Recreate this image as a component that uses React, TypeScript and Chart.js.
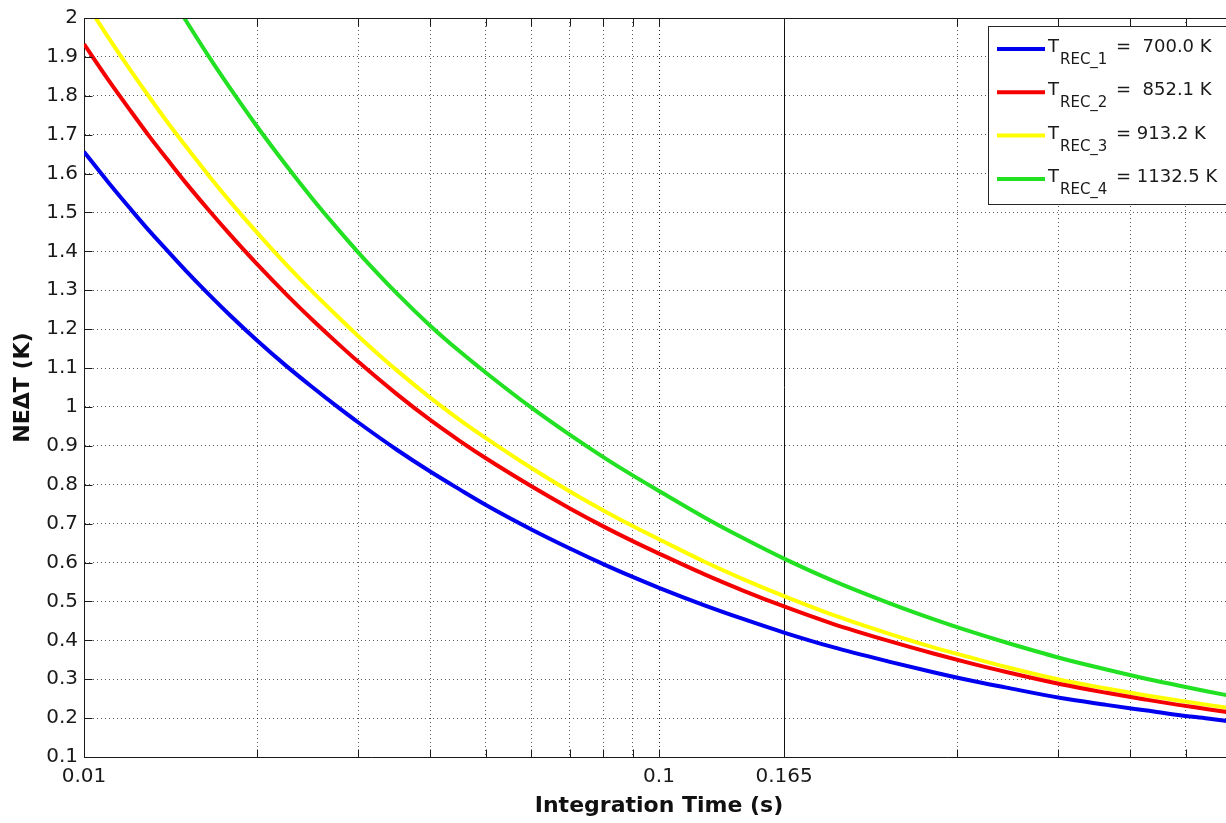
import React, { useEffect, useRef } from "react";
import { Chart, registerables } from "chart.js";

Chart.register(...registerables);

// Integration time samples (s)
const INTEGRATION_TIME = [
  0.01, 0.011, 0.012, 0.013, 0.014, 0.015, 0.0165, 0.018, 0.02, 0.0225, 0.025, 0.0275,
  0.03, 0.035, 0.04, 0.045, 0.05, 0.06, 0.07, 0.08, 0.09, 0.1, 0.12, 0.14, 0.165, 0.2,
  0.25, 0.3, 0.35, 0.4, 0.5, 0.6, 0.7, 0.8, 0.9, 1.0,
];

// NEΔT (K) for each receiver temperature
const NEDT_REC_1 = [
  1.656, 1.579, 1.512, 1.452, 1.4, 1.352, 1.289, 1.234, 1.171, 1.105, 1.05, 1.002,
  0.96, 0.89, 0.834, 0.788, 0.748, 0.685, 0.636, 0.596, 0.563, 0.535, 0.49, 0.455,
  0.42, 0.383, 0.346, 0.318, 0.296, 0.279, 0.2515, 0.234, 0.22, 0.208, 0.199, 0.1905,
];
const NEDT_REC_2 = [
  1.933, 1.843, 1.765, 1.695, 1.634, 1.578, 1.505, 1.441, 1.367, 1.289, 1.223, 1.166,
  1.116, 1.033, 0.9665, 0.913, 0.868, 0.796, 0.739, 0.693, 0.655, 0.623, 0.5695, 0.528,
  0.487, 0.443, 0.399, 0.366, 0.34, 0.319, 0.287, 0.265, 0.248, 0.234, 0.223, 0.213,
];
const NEDT_REC_3 = [
  2.047, 1.952, 1.869, 1.796, 1.73, 1.672, 1.594, 1.526, 1.448, 1.365, 1.295, 1.235,
  1.182, 1.094, 1.024, 0.967, 0.92, 0.843, 0.7825, 0.734, 0.694, 0.66, 0.602, 0.5575,
  0.5135, 0.466, 0.418, 0.382, 0.355, 0.332, 0.298, 0.276, 0.259, 0.2455, 0.234, 0.224,
];
const NEDT_REC_4 = [
  2.459, 2.342, 2.239, 2.149, 2.068, 1.996, 1.9, 1.817, 1.721, 1.62, 1.534, 1.461,
  1.397, 1.292, 1.209, 1.143, 1.088, 0.998, 0.928, 0.871, 0.824, 0.784, 0.716, 0.663,
  0.61, 0.554, 0.497, 0.4545, 0.4215, 0.395, 0.354, 0.325, 0.302, 0.284, 0.2685, 0.2555,
];

const SERIES = [NEDT_REC_1, NEDT_REC_2, NEDT_REC_3, NEDT_REC_4];
const SERIES_COLORS = ["#0000f0", "#f40000", "#ffff00", "#22e022"];
const LEGEND_SUBSCRIPTS = ["REC_1", "REC_2", "REC_3", "REC_4"];
const LEGEND_VALUES = ["=  700.0 K", "=  852.1 K", "= 913.2 K", "= 1132.5 K"];

// Axis ticks and grid
const X_GRID = [
  0.01, 0.02, 0.03, 0.04, 0.05, 0.06, 0.07, 0.08, 0.09, 0.1, 0.165, 0.33, 0.495, 0.66, 0.825,
];
const X_LABELS = [0.01, 0.1, 0.165];
const MARKER_TIME = 0.165;
const Y_TICKS = [
  0.1, 0.2, 0.3, 0.4, 0.5, 0.6, 0.7, 0.8, 0.9, 1.0, 1.1, 1.2, 1.3, 1.4, 1.5, 1.6, 1.7, 1.8,
  1.9, 2.0,
];

const FONT = '"DejaVu Sans", sans-serif';
const INK = "#1a1a1a";

const align = (v: number) => Math.round(v) + 0.5;

// Solid marker line, box frame with inward ticks, and the subscripted legend
const framePlugin = {
  id: "frame",
  beforeDatasetsDraw(chart: any) {
    const { ctx, chartArea: a, scales } = chart;
    const mx = align(scales.x.getPixelForValue(MARKER_TIME));
    ctx.save();
    ctx.strokeStyle = "#111";
    ctx.lineWidth = 1;
    ctx.beginPath();
    ctx.moveTo(mx, a.top);
    ctx.lineTo(mx, a.bottom);
    ctx.stroke();
    ctx.restore();
  },
  afterDatasetsDraw(chart: any) {
    const { ctx, chartArea: a, scales } = chart;
    const { x, y } = scales;
    const L = align(a.left);
    const R = align(a.right);
    const T = align(a.top);
    const B = align(a.bottom);
    const tick = 8;

    ctx.save();
    ctx.strokeStyle = INK;
    ctx.lineWidth = 1;
    ctx.beginPath();
    ctx.moveTo(L, T);
    ctx.lineTo(R, T);
    ctx.lineTo(R, B);
    for (const v of X_GRID) {
      if (v === X_GRID[0]) continue;
      const px = align(x.getPixelForValue(v));
      ctx.moveTo(px, B);
      ctx.lineTo(px, B - tick);
      ctx.moveTo(px, T);
      ctx.lineTo(px, T + tick);
    }
    for (const v of Y_TICKS) {
      const py = align(y.getPixelForValue(v));
      ctx.moveTo(L, py);
      ctx.lineTo(L + tick, py);
      ctx.moveTo(R, py);
      ctx.lineTo(R - tick, py);
    }
    ctx.stroke();

    // Legend
    const boxW = 238;
    const boxH = 178;
    const lx = Math.round(a.right) - 8 - boxW;
    const ly = Math.round(a.top) + 8;
    ctx.fillStyle = "#ffffff";
    ctx.fillRect(lx, ly, boxW, boxH);
    ctx.strokeStyle = "#262626";
    ctx.strokeRect(lx + 0.5, ly + 0.5, boxW, boxH);

    chart.data.datasets.forEach((ds: any, i: number) => {
      const rowY = ly + 23 + i * 43.3;
      ctx.strokeStyle = ds.borderColor;
      ctx.lineWidth = 4;
      ctx.beginPath();
      ctx.moveTo(lx + 9, rowY);
      ctx.lineTo(lx + 57, rowY);
      ctx.stroke();

      ctx.fillStyle = INK;
      ctx.textBaseline = "alphabetic";
      ctx.textAlign = "left";
      ctx.font = `18px ${FONT}`;
      ctx.fillText("T", lx + 60, rowY + 3);
      ctx.font = `15px ${FONT}`;
      ctx.fillText(LEGEND_SUBSCRIPTS[i], lx + 72, rowY + 15);
      ctx.font = `18px ${FONT}`;
      ctx.fillText(LEGEND_VALUES[i], lx + 128, rowY + 3);
    });
    ctx.restore();
  },
};

export default function App() {
  const canvasRef = useRef<HTMLCanvasElement>(null);

  useEffect(() => {
    const canvas = canvasRef.current;
    if (!canvas) return;
    Chart.defaults.font.family = FONT;

    const datasets = SERIES.map((values, i) => ({
      label: `T${LEGEND_SUBSCRIPTS[i]} ${LEGEND_VALUES[i]}`,
      data: INTEGRATION_TIME.map((t, k) => ({ x: t, y: values[k] })),
      borderColor: SERIES_COLORS[i],
      backgroundColor: SERIES_COLORS[i],
      borderWidth: 4,
      pointRadius: 0,
      cubicInterpolationMode: "monotone" as const,
      clip: 0,
      fill: false,
    }));

    const gridColor = (ctx: any) => {
      const v = ctx.tick ? ctx.tick.value : null;
      if (v === MARKER_TIME) return "rgba(0,0,0,0)";
      if (v === 0.1) return "rgba(0,0,0,0.85)";
      return "rgba(0,0,0,0.65)";
    };

    const chart = new Chart(canvas, {
      type: "line",
      data: { datasets },
      plugins: [framePlugin],
      options: {
        animation: false,
        responsive: false,
        devicePixelRatio: 1,
        layout: { padding: { top: 16, right: 6, left: 0, bottom: 0 } },
        plugins: {
          legend: { display: false },
          tooltip: { enabled: false },
        },
        scales: {
          x: {
            type: "logarithmic",
            min: 0.01,
            max: 1,
            afterBuildTicks: (s: any) => {
              s.ticks = X_GRID.map((v) => ({ value: v }));
            },
            afterFit: (s: any) => {
              s.height = 66;
            },
            ticks: {
              autoSkip: false,
              maxRotation: 0,
              minRotation: 0,
              padding: 8,
              color: INK,
              font: { size: 20, family: FONT },
              callback: (v: any) => (X_LABELS.includes(Number(v)) ? String(v) : ""),
            },
            grid: { color: gridColor, drawTicks: false, lineWidth: 1 },
            border: { display: true, color: INK, width: 1, dash: [1, 3] },
            title: {
              display: true,
              text: "Integration Time (s)",
              color: "#111",
              font: { size: 22, weight: "bold", family: FONT },
              padding: { top: 0, bottom: 4 },
            },
          },
          y: {
            type: "linear",
            min: 0.1,
            max: 2,
            afterBuildTicks: (s: any) => {
              s.ticks = Y_TICKS.map((v) => ({ value: v }));
            },
            afterFit: (s: any) => {
              s.width = 84;
            },
            ticks: {
              padding: 6,
              color: INK,
              font: { size: 20, family: FONT },
              callback: (v: any) => String(Number(Number(v).toFixed(1))),
            },
            grid: { color: "rgba(0,0,0,0.65)", drawTicks: false, lineWidth: 1 },
            border: { display: true, color: INK, width: 1, dash: [1, 3] },
            title: {
              display: true,
              text: "NEΔT (K)",
              color: "#111",
              font: { size: 22, weight: "bold", family: FONT },
              padding: { top: 10, bottom: 0 },
            },
          },
        },
      } as any,
    });

    return () => chart.destroy();
  }, []);

  return (
    <div
      style={{
        position: "absolute",
        left: 0,
        top: 0,
        width: 1226,
        height: 823,
        overflow: "hidden",
        background: "#ffffff",
      }}
    >
      <canvas
        ref={canvasRef}
        width={1240}
        height={823}
        style={{ display: "block", width: 1240, height: 823 }}
      />
    </div>
  );
}
